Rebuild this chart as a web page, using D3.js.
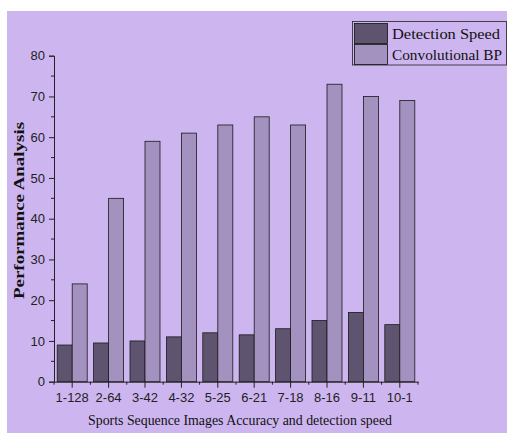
<!DOCTYPE html>
<html><head><meta charset="utf-8">
<script src="https://cdn.jsdelivr.net/npm/d3@7"></script>
<style>html,body{margin:0;padding:0;background:#fff;}svg{display:block;}</style>
</head><body>
<svg id="chart" width="507" height="433"></svg>
<script>
const categories = ["1-128","2-64","3-42","4-32","5-25","6-21","7-18","8-16","9-11","10-1"];
const detectionSpeed = [9, 9.5, 10, 11, 12, 11.5, 13, 15, 17, 14];
const convolutionalBP = [24, 45, 59, 61, 63, 65, 63, 73, 70, 69];
const seriesNames = ["Detection Speed", "Convolutional BP"];
const yTicks = [0,10,20,30,40,50,60,70,80];
const colors = ["#5e5470", "#a392c0"];

const svg = d3.select("#chart");
svg.append("rect").attr("x",7).attr("y",11).attr("width",500).attr("height",422).attr("fill","#cdb6ef");

const x = d3.scaleBand().domain(categories).range([54,418]).paddingInner(0).paddingOuter(0);
const y = d3.scaleLinear().domain([0,80]).range([381.7,55.7]);
const barW = 15;

const series = [detectionSpeed, convolutionalBP];
series.forEach((vals, si) => {
  svg.append("g").selectAll("rect").data(vals).join("rect")
    .attr("x", (d,i) => x(categories[i]) + x.bandwidth()/2 - barW + si*barW)
    .attr("y", d => y(d))
    .attr("width", barW)
    .attr("height", d => y(0) - y(d))
    .attr("fill", colors[si])
    .attr("stroke", "#1a1a1a")
    .attr("stroke-width", 0.8);
});

// Y axis
const yAxis = svg.append("g").attr("transform","translate(54,0)")
  .call(d3.axisLeft(y).tickValues(yTicks).tickSize(5).tickPadding(4));
yAxis.select(".domain").attr("stroke","#222");
yAxis.selectAll(".tick line").attr("stroke","#222");
yAxis.selectAll("text").attr("font-family","Liberation Sans, Arial, sans-serif").attr("font-size",13).attr("fill","#222");
// minor y ticks
svg.append("g").selectAll("line").data(d3.range(5,80,10)).join("line")
  .attr("x1",51).attr("x2",54).attr("y1",d=>y(d)).attr("y2",d=>y(d)).attr("stroke","#222");

// X axis
const xAxis = svg.append("g").attr("transform",`translate(0,${y(0)})`)
  .call(d3.axisBottom(x).tickSize(6).tickPadding(5).tickSizeOuter(0));
xAxis.select(".domain").attr("stroke","#222");
xAxis.selectAll(".tick line").attr("stroke","#222");
xAxis.selectAll("text").attr("font-family","Liberation Sans, Arial, sans-serif").attr("font-size",13).attr("fill","#222");
// minor x ticks at boundaries
const bounds = categories.map(c => x(c)).concat([418]);
svg.append("g").selectAll("line").data(bounds).join("line")
  .attr("x1",d=>d).attr("x2",d=>d).attr("y1",y(0)).attr("y2",y(0)+3).attr("stroke","#222");

// Axis titles
svg.append("text").attr("x",88).attr("y",425)
  .attr("textLength",304).attr("lengthAdjust","spacingAndGlyphs")
  .attr("font-family","Liberation Serif, Times New Roman, serif").attr("font-size",14).attr("fill","#111")
  .text("Sports Sequence Images Accuracy and detection speed");
svg.append("text").attr("transform","translate(24,299) rotate(-90)")
  .attr("textLength",177).attr("lengthAdjust","spacingAndGlyphs")
  .attr("font-family","Liberation Serif, Times New Roman, serif").attr("font-size",15).attr("font-weight","bold").attr("fill","#111")
  .text("Performance Analysis");

// Legend
const lg = svg.append("g");
lg.append("rect").attr("x",352.5).attr("y",21.5).attr("width",154).attr("height",43.5)
  .attr("fill","none").attr("stroke","#222").attr("stroke-width",0.8);
const legendLens = [108, 110];
seriesNames.forEach((n,i) => {
  lg.append("rect").attr("x",354.5).attr("y",23.5 + i*21).attr("width",33).attr("height",20)
    .attr("fill",colors[i]).attr("stroke","#111").attr("stroke-width",0.8);
  lg.append("text").attr("x",392).attr("y",38.5 + i*21)
    .attr("textLength",legendLens[i]).attr("lengthAdjust","spacingAndGlyphs")
    .attr("font-family","Liberation Serif, Times New Roman, serif").attr("font-size",15.5).attr("fill","#111")
    .text(n);
});
</script>
</body></html>
